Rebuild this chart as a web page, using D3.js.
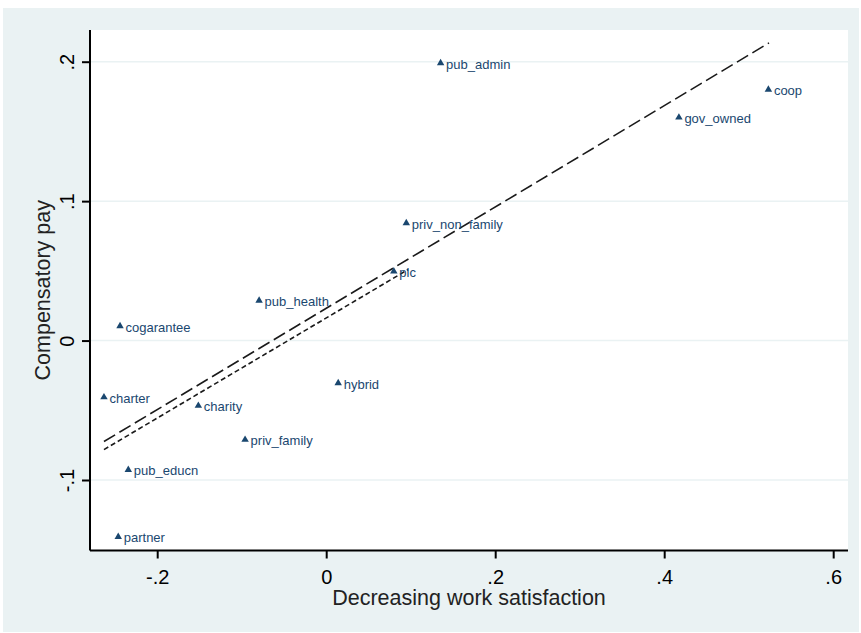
<!DOCTYPE html>
<html lang="en">
<head>
<meta charset="UTF-8">
<script src="https://d3js.org/d3.v7.min.js"></script>
<title>Compensatory pay vs work satisfaction</title>
<style>
  body { margin: 0; background: #fff; }
  svg { display: block; }
  text { font-family: "Liberation Sans", Arial, Helvetica, sans-serif; }
</style>
</head>
<body>
<svg id="chart" width="861" height="633"></svg>
<script>
// organisation types
const types = ["pub_admin", "coop", "gov_owned", "priv_non_family", "plc", "pub_health",
               "cogarantee", "hybrid", "charter", "charity", "priv_family", "pub_educn", "partner"];
const satisfaction = [0.1354, 0.5233, 0.4174, 0.0948, 0.0800, -0.0794,
                      -0.2440, 0.0142, -0.2630, -0.1513, -0.0960, -0.2342, -0.2461];
const compPay = [0.199, 0.180, 0.160, 0.0843, 0.0496, 0.0287,
                 0.0104, -0.0305, -0.0406, -0.0467, -0.0711, -0.0927, -0.1408];

// fitted lines (end points)
const fitAll = [[-0.263, -0.0724], [0.524, 0.2135]];
const fitSub = [[-0.263, -0.0782], [0.097, 0.0510]];

const xTicks = [-0.2, 0, 0.2, 0.4, 0.6];
const yTicks = [-0.1, 0, 0.1, 0.2];

const navy = "#1a476f";
const bg = "#eaf2f3";

const svg = d3.select("#chart");
const pl = 90, pr = 848, pt = 30, pb = 550.5;

// outer frame and plot region
svg.append("rect").attr("x", 3).attr("y", 8).attr("width", 856).attr("height", 624).attr("fill", bg);
svg.append("rect").attr("x", pl).attr("y", pt).attr("width", pr - pl).attr("height", pb - pt).attr("fill", "#fff");

const xs = d3.scaleLinear().domain([-0.2, 0.6]).range([157.2, 833.2]);
const ys = d3.scaleLinear().domain([-0.1, 0.2]).range([480, 61.7]);

// stata style: "-.2", ".4", "0"
const fmt = d => d === 0 ? "0" : (d < 0 ? "-" : "") + Math.abs(d).toFixed(1).replace("0.", ".");

// grid lines
svg.append("g").selectAll("line").data(yTicks).enter().append("line")
  .attr("x1", pl).attr("x2", pr)
  .attr("y1", d => ys(d)).attr("y2", d => ys(d))
  .attr("stroke", bg).attr("stroke-width", 1.5);

// axes
const xAxis = svg.append("g")
  .attr("transform", "translate(0," + pb + ")")
  .call(d3.axisBottom(xs).tickValues(xTicks).tickSize(8).tickPadding(11).tickFormat(fmt).tickSizeOuter(0));
xAxis.select(".domain").attr("d", "M" + pl + ",0H" + pr).attr("stroke-width", 2);
xAxis.selectAll(".tick line").attr("stroke-width", 2);
xAxis.selectAll(".tick text").attr("font-size", 20).attr("font-family", "Liberation Sans, Arial, sans-serif").attr("fill", "#000");

const yAxis = svg.append("g")
  .attr("transform", "translate(" + pl + ",0)")
  .call(d3.axisLeft(ys).tickValues(yTicks).tickSize(8).tickFormat(fmt).tickSizeOuter(0));
yAxis.select(".domain").attr("d", "M0," + pt + "V" + pb).attr("stroke-width", 2);
yAxis.selectAll(".tick line").attr("stroke-width", 2);
yAxis.selectAll(".tick text")
  .attr("font-size", 20).attr("font-family", "Liberation Sans, Arial, sans-serif").attr("fill", "#000")
  .attr("x", 0).attr("dy", null).attr("text-anchor", "middle")
  .attr("transform", "translate(-16.5,0) rotate(-90)");

// axis titles
svg.append("text").attr("x", (pl + pr) / 2).attr("y", 605)
  .attr("text-anchor", "middle").attr("font-size", 21.5).attr("fill", "#222")
  .text("Decreasing work satisfaction");
svg.append("text").attr("transform", "translate(50," + (pt + pb) / 2 + ") rotate(-90)")
  .attr("text-anchor", "middle").attr("font-size", 21.5).attr("fill", "#222")
  .text("Compensatory pay");

// fitted lines
const line = d3.line().x(d => xs(d[0])).y(d => ys(d[1]));
svg.append("path").attr("d", line(fitAll)).attr("fill", "none")
  .attr("stroke", "#1a1a1a").attr("stroke-width", 1.6).attr("stroke-dasharray", "13,5");
svg.append("path").attr("d", line(fitSub)).attr("fill", "none")
  .attr("stroke", "#1a1a1a").attr("stroke-width", 1.6).attr("stroke-dasharray", "5,3");

// points and labels
const pts = types.map((t, i) => ({ name: t, x: satisfaction[i], y: compPay[i] }));
const tri = d3.symbol().type(d3.symbolTriangle).size(24);
const g = svg.append("g");
g.selectAll("path").data(pts).enter().append("path")
  .attr("d", tri)
  .attr("transform", d => "translate(" + xs(d.x) + "," + ys(d.y) + ")")
  .attr("fill", navy);
g.selectAll("text").data(pts).enter().append("text")
  .attr("x", d => xs(d.x) + 5.5).attr("y", d => ys(d.y) + 5.5)
  .attr("font-size", 13).attr("fill", navy)
  .text(d => d.name);
</script>
</body>
</html>
